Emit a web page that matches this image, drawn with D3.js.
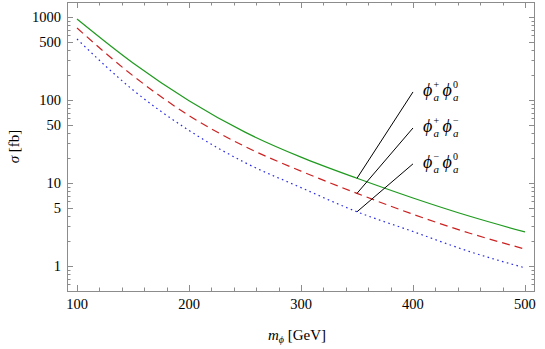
<!DOCTYPE html>
<html>
<head>
<meta charset="utf-8">
<script src="https://cdn.jsdelivr.net/npm/d3@7"></script>
<style>
  body { margin: 0; background: #fff; }
  svg text { font-family: "Liberation Serif", "DejaVu Serif", serif; }
</style>
</head>
<body>
<div id="chart"></div>
<script>
// masses (GeV) and cross sections (fb)
const masses = [100, 150, 200, 250, 300, 350, 400, 450, 500];
const sigmaPlusZero = [945, 279, 98, 41, 20.5, 11.4, 6.6, 4.0, 2.57];
const sigmaPlusMinus = [737, 196, 65, 27.5, 13.9, 7.5, 4.2, 2.5, 1.6];
const sigmaMinusZero = [543, 132, 43, 17.6, 8.8, 4.5, 2.6, 1.5, 0.95];

const xTicks = [100, 200, 300, 400, 500];
const yTicks = [1, 5, 10, 50, 100, 500, 1000];

const series = [
  { name: "pz", values: sigmaPlusZero, color: "#1f9a1f", dash: null, sup: "+", sup2: "0", labelY: 125 },
  { name: "pm", values: sigmaPlusMinus, color: "#cc2222", dash: "8,5", sup: "+", sup2: "\u2212", labelY: 46 },
  { name: "mz", values: sigmaMinusZero, color: "#2a2ae0", dash: "1.6,3.4", sup: "\u2212", sup2: "0", labelY: 17 },
];

const W = 545, H = 349;
const margin = { left: 67, right: 10, top: 2, bottom: 58 };

const svg = d3.select("#chart").append("svg")
  .attr("width", W).attr("height", H);

const x = d3.scaleLinear().domain([91.07, 508.93]).range([margin.left, W - margin.right]);
const y = d3.scaleLog()
  .domain([Math.pow(10, -25 / 83), Math.pow(10, 264 / 83)])
  .range([H - margin.bottom, margin.top]);

const frameColor = "#8c8c8c";
const x0 = margin.left, x1 = W - margin.right, y0 = margin.top, y1 = H - margin.bottom;

// minor ticks
const xMinor = d3.range(100, 501, 20).filter(v => v % 100 !== 0);
const yMinor = [];
[0.1, 1, 10, 100, 1000].forEach(d => {
  for (let k = 2; k <= 9; k++) {
    const v = d * k;
    if (k !== 5 && v >= y.domain()[0] && v <= y.domain()[1]) yMinor.push(v);
  }
});

const ticks = svg.append("g").attr("stroke", frameColor).attr("stroke-width", 1);
xTicks.forEach(v => {
  const px = Math.round(x(v)) + 0.5;
  ticks.append("line").attr("x1", px).attr("x2", px).attr("y1", y1).attr("y2", y1 - 6);
  ticks.append("line").attr("x1", px).attr("x2", px).attr("y1", y0).attr("y2", y0 + 6);
});
xMinor.forEach(v => {
  const px = Math.round(x(v)) + 0.5;
  ticks.append("line").attr("x1", px).attr("x2", px).attr("y1", y1).attr("y2", y1 - 3.5);
  ticks.append("line").attr("x1", px).attr("x2", px).attr("y1", y0).attr("y2", y0 + 3.5);
});
yTicks.forEach(v => {
  const py = Math.round(y(v)) + 0.5;
  ticks.append("line").attr("x1", x0).attr("x2", x0 + 6).attr("y1", py).attr("y2", py);
  ticks.append("line").attr("x1", x1).attr("x2", x1 - 6).attr("y1", py).attr("y2", py);
});
yMinor.forEach(v => {
  const py = Math.round(y(v)) + 0.5;
  ticks.append("line").attr("x1", x0).attr("x2", x0 + 3.5).attr("y1", py).attr("y2", py);
  ticks.append("line").attr("x1", x1).attr("x2", x1 - 3.5).attr("y1", py).attr("y2", py);
});

// frame
svg.append("rect")
  .attr("x", x0 + 0.5).attr("y", y0 + 0.5)
  .attr("width", x1 - x0 - 1).attr("height", y1 - y0)
  .attr("fill", "none").attr("stroke", frameColor).attr("stroke-width", 1);

// tick labels
svg.append("g").selectAll("text").data(xTicks).join("text")
  .attr("x", d => x(d)).attr("y", y1 + 18)
  .attr("text-anchor", "middle").attr("font-size", 14.5)
  .text(d => d);
svg.append("g").selectAll("text").data(yTicks).join("text")
  .attr("x", x0 - 6).attr("y", d => y(d) + 5)
  .attr("text-anchor", "end").attr("font-size", 14.5)
  .text(d => d);

// axis titles
const xt = svg.append("text").attr("x", 297).attr("y", 340)
  .attr("text-anchor", "middle").attr("font-size", 15);
xt.append("tspan").attr("font-style", "italic").text("m");
xt.append("tspan").attr("font-style", "italic").attr("font-size", 10).attr("dy", 3).text("\u03D5");
xt.append("tspan").attr("dy", -3).text(" [GeV]");

svg.append("text")
  .attr("transform", `translate(19,${(y0 + y1) / 2}) rotate(-90)`)
  .attr("text-anchor", "middle").attr("font-size", 15)
  .call(t => {
    t.append("tspan").attr("font-style", "italic").text("\u03C3");
    t.append("tspan").text(" [fb]");
  });

// curves
const line = d3.line()
  .x((d, i) => x(masses[i]))
  .y(d => y(d))
  .curve(d3.curveMonotoneX);

svg.append("g").selectAll("path").data(series).join("path")
  .attr("d", d => line(d.values))
  .attr("fill", "none")
  .attr("stroke", d => d.color)
  .attr("stroke-width", 1.2)
  .attr("stroke-dasharray", d => d.dash);

// labels with pointer lines
const lab = svg.append("g");
series.forEach(s => {
  const i = masses.indexOf(350);
  lab.append("line")
    .attr("x1", x(350)).attr("y1", y(s.values[i]))
    .attr("x2", x(400)).attr("y2", y(s.labelY))
    .attr("stroke", "#000").attr("stroke-width", 1);
  const tx = x(400) + 10, ty = y(s.labelY) + 4;
  const g = lab.append("g").attr("font-style", "italic");
  g.append("text").attr("x", tx).attr("y", ty).attr("font-size", 18).text("\u03D5");
  g.append("text").attr("x", tx + 10.5).attr("y", ty - 8).attr("font-size", 10).attr("font-style", "normal").text(s.sup);
  g.append("text").attr("x", tx + 10.5).attr("y", ty + 5).attr("font-size", 11).text("a");
  g.append("text").attr("x", tx + 19.5).attr("y", ty).attr("font-size", 18).text("\u03D5");
  g.append("text").attr("x", tx + 30).attr("y", ty - 8).attr("font-size", 10).attr("font-style", "normal").text(s.sup2);
  g.append("text").attr("x", tx + 30).attr("y", ty + 5).attr("font-size", 11).text("a");
});
</script>
</body>
</html>
